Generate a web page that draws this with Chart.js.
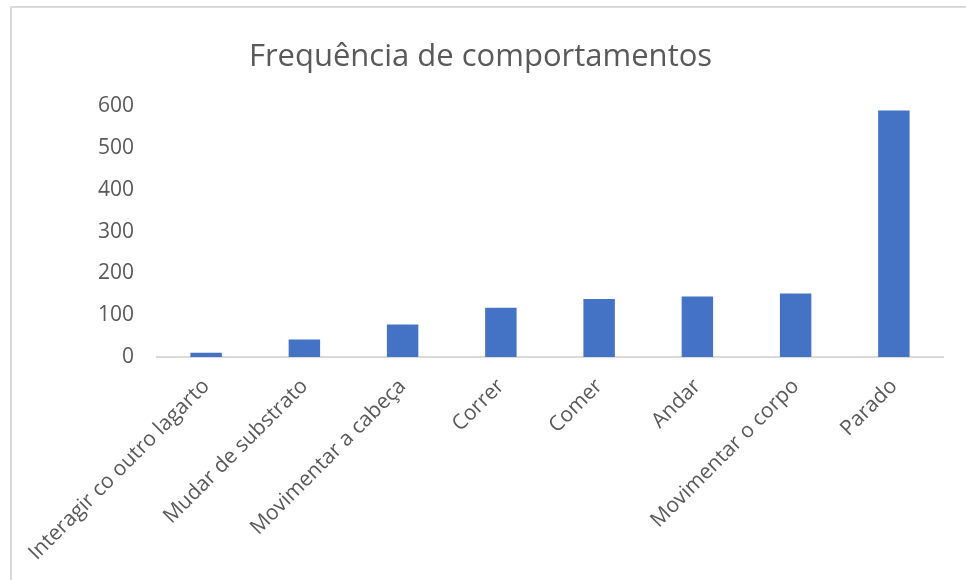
<!DOCTYPE html>
<html>
<head>
<meta charset="utf-8">
<script src="https://cdn.jsdelivr.net/npm/chart.js@4"></script>
<style>
	html, body { margin: 0; padding: 0; background: #fff; }
	#wrap { position: relative; width: 966px; height: 580px; overflow: hidden; }
	#frame {
		position: absolute; left: 10px; top: 6px; width: 980px; height: 600px;
		border-left: 2px solid #d9d9d9; border-top: 2px solid #d9d9d9;
		pointer-events: none;
	}
	canvas { position: absolute; left: 0; top: 0; }
</style>
</head>
<body>
<div id="wrap">
	<canvas id="barChart" width="966" height="580"></canvas>
	<div id="frame"></div>
</div>
<script>
"use strict";

const categories = [
	"Interagir co outro lagarto",
	"Mudar de substrato",
	"Movimentar a cabeça",
	"Correr",
	"Comer",
	"Andar",
	"Movimentar o corpo",
	"Parado",
];
const frequencies = [10, 42, 78, 118, 139, 145, 152, 590];
const yTicks = [0, 100, 200, 300, 400, 500, 600];

const textColor = "#595959";
const ctx = document.getElementById("barChart");

new Chart(ctx, {
	type: "bar",
	data: {
		labels: categories,
		datasets: [
			{
				label: "Frequência",
				data: frequencies,
				backgroundColor: "#4472c4",
				borderWidth: 0,
				barPercentage: 0.32,
				categoryPercentage: 1,
			},
		],
	},
	options: {
		responsive: false,
		animation: false,
		layout: {
			padding: { left: 18, right: 23, top: 39, bottom: 0 },
		},
		plugins: {
			legend: { display: false },
			tooltip: { enabled: false },
			title: {
				display: true,
				text: "Frequência de comportamentos",
				color: textColor,
				font: { family: "Open Sans", size: 31, weight: "normal" },
				padding: { top: 0, bottom: 30 },
			},
		},
		scales: {
			x: {
				grid: { display: false, drawTicks: false },
				border: { display: true, color: "#d9d9d9", width: 2 },
				ticks: {
					color: textColor,
					font: { family: "Open Sans", size: 21 },
					minRotation: 45,
					maxRotation: 45,
					padding: 17,
					autoSkip: false,
				},
				afterFit: (scale) => {
					scale.height = 223;
				},
			},
			y: {
				min: 0,
				max: 600,
				grid: { display: false, drawTicks: false },
				border: { display: false },
				afterBuildTicks: (scale) => {
					scale.ticks = yTicks.map((v) => ({ value: v }));
				},
				ticks: {
					color: textColor,
					font: { family: "Open Sans", size: 21 },
					padding: 23,
				},
				afterFit: (scale) => {
					scale.width = 139;
				},
			},
		},
	},
});
</script>
</body>
</html>
